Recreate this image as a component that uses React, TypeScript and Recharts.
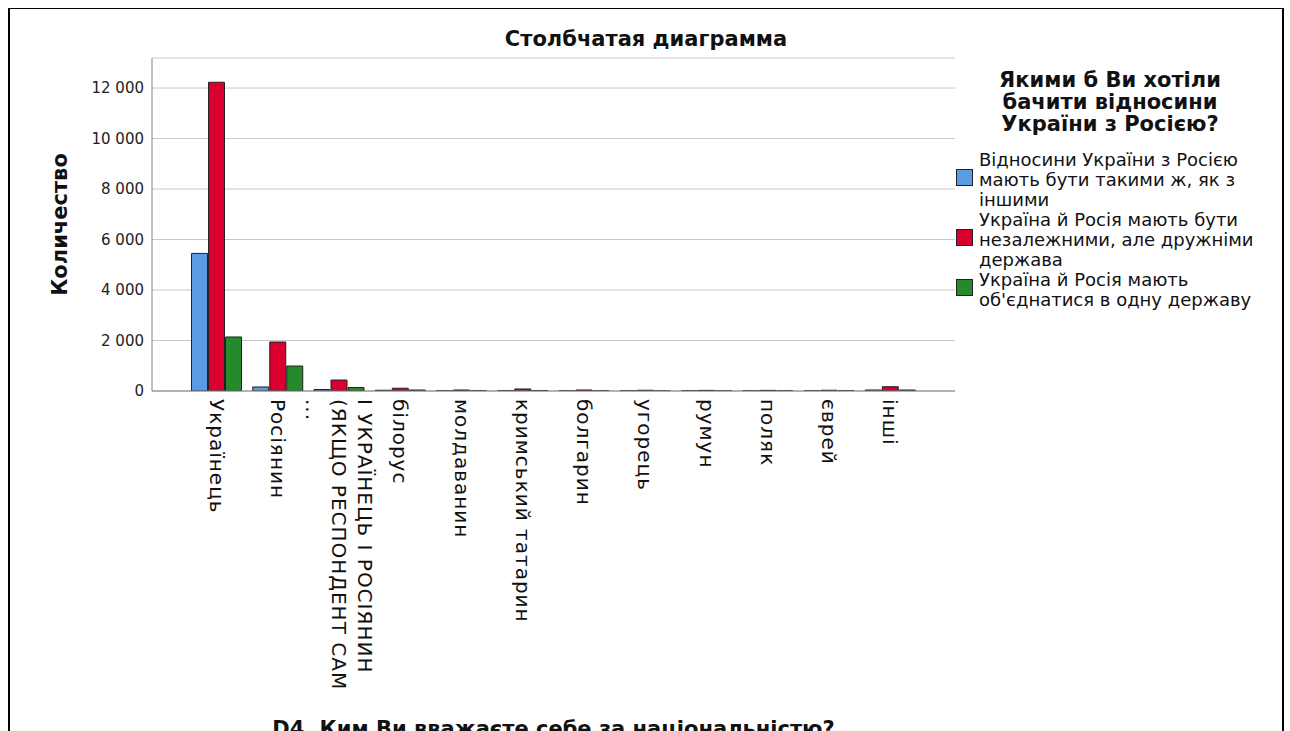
import { BarChart, Bar, XAxis, YAxis, CartesianGrid, Legend, Label } from 'recharts';

const categories = [
  'Українець',
  'Росіянин',
  'І УКРАЇНЕЦЬ І РОСІЯНИН|(ЯКЩО РЕСПОНДЕНТ САМ|...',
  'білорус',
  'молдаванин',
  'кримський татарин',
  'болгарин',
  'угорець',
  'румун',
  'поляк',
  'єврей',
  'інші'
];

const sameAsOthers = [5450, 160, 60, 30, 10, 15, 10, 10, 10, 10, 10, 40];
const friendlyStates = [12230, 1940, 435, 110, 40, 80, 40, 30, 25, 25, 30, 170];
const unite = [2140, 990, 140, 40, 10, 20, 10, 5, 5, 10, 10, 40];

const yTicks = [0, 2000, 4000, 6000, 8000, 10000, 12000];

const seriesNames = [
  'Відносини України з Росією|мають бути такими ж, як з|іншими',
  'Україна й Росія мають бути|незалежними, але дружніми|держава',
  'Україна й Росія мають|об\'єднатися в одну державу'
];
const seriesColors = ['#5a9be6', '#d9002f', '#248a2c'];

const legendTitle = ['Якими б Ви хотіли', 'бачити відносини', 'України з Росією?'];

const data = categories.map((c, i) => ({
  name: c,
  s0: sameAsOthers[i],
  s1: friendlyStates[i],
  s2: unite[i]
}));

const FONT = '"DejaVu Sans", sans-serif';

const fmt = (v: number) => String(v).replace(/\B(?=(\d{3})+(?!\d))/g, ' ');

function XTick({ x, y, payload }: any) {
  const lines = String(payload.value).split('|');
  const lh = 26;
  return (
    <g transform={`translate(${x},${y})`}>
      <text
        transform="rotate(90)"
        fontFamily={FONT}
        fontSize={20}
        letterSpacing={1}
        fill="#111"
        textAnchor="start"
      >
        {lines.map((l, i) => (
          <tspan key={i} x={0} y={(i - (lines.length - 1) / 2) * lh} dominantBaseline="central">
            {l}
          </tspan>
        ))}
      </text>
    </g>
  );
}

function LegendBox() {
  return (
    <div style={{ fontFamily: FONT, color: '#111', width: 330 }}>
      <div style={{ textAlign: 'center', fontWeight: 'bold', fontSize: 21, lineHeight: '22px', paddingRight: 22 }}>
        {legendTitle.map((t) => (
          <div key={t}>{t}</div>
        ))}
      </div>
      <div style={{ marginTop: 15 }}>
        {seriesNames.map((n, i) => (
          <div key={n} style={{ display: 'flex', alignItems: 'center' }}>
            <div
              style={{
                width: 15,
                height: 15,
                background: seriesColors[i],
                border: '1px solid #222',
                marginRight: 6,
                marginTop: -6,
                flexShrink: 0
              }}
            />
            <div style={{ fontSize: 18, lineHeight: '20px', whiteSpace: 'nowrap' }}>
              {n.split('|').map((l) => (
                <div key={l}>{l}</div>
              ))}
            </div>
          </div>
        ))}
      </div>
    </div>
  );
}

export default function App() {
  return (
    <div
      style={{
        position: 'fixed',
        left: 8,
        top: 8,
        width: 1276,
        height: 723,
        boxSizing: 'border-box',
        borderLeft: '2px solid #000',
        borderRight: '2px solid #000',
        borderTop: '1px solid #000',
        overflow: 'hidden',
        background: '#fff'
      }}
    >
      <div
        style={{
          position: 'absolute',
          top: 18,
          left: 0,
          width: 1272,
          textAlign: 'center',
          fontFamily: FONT,
          fontWeight: 'bold',
          fontSize: 21,
          color: '#111',
          zIndex: 2
        }}
      >
        Столбчатая диаграмма
      </div>
      <BarChart
        width={1272}
        height={760}
        data={data}
        margin={{ top: 49, right: 327, left: 0, bottom: 0 }}
        barCategoryGap="9%"
        barGap={1}
      >
        <CartesianGrid vertical={false} stroke="#c8c8c8" />
        <XAxis
          dataKey="name"
          interval={0}
          height={378}
          padding={{ left: 34, right: 34 }}
          tickLine={false}
          axisLine={{ stroke: '#808080' }}
          tick={<XTick />}
        >
          <Label
            value="D4. Ким Ви вважаєте себе за національністю?"
            content={({ viewBox }: any) => (
              <text
                x={viewBox.x + viewBox.width / 2}
                y={727}
                textAnchor="middle"
                fontFamily={FONT}
                fontWeight="bold"
                fontSize={21}
                fill="#111"
              >
                D4. Ким Ви вважаєте себе за національністю?
              </text>
            )}
          />
        </XAxis>
        <YAxis
          width={142}
          domain={[0, 13190]}
          ticks={yTicks}
          allowDataOverflow
          tickLine={false}
          axisLine={{ stroke: '#808080' }}
          tick={{ fontFamily: FONT, fontSize: 15, fill: '#222' }}
          tickFormatter={fmt}
        >
          <Label
            value="Количество"
            content={({ viewBox }: any) => (
              <text
                x={50}
                y={viewBox.y + viewBox.height / 2}
                transform={`rotate(-90, 50, ${viewBox.y + viewBox.height / 2})`}
                textAnchor="middle"
                dominantBaseline="central"
                fontFamily={FONT}
                fontWeight="bold"
                fontSize={21}
                fill="#111"
              >
                Количество
              </text>
            )}
          />
        </YAxis>
        <Legend
          layout="horizontal"
          verticalAlign="middle"
          align="center"
          content={() => <LegendBox />}
          wrapperStyle={{ position: 'absolute', left: 946, top: 60, width: 330, height: 'auto' }}
        />
        {['s0', 's1', 's2'].map((k, i) => (
          <Bar
            key={k}
            dataKey={k}
            name={seriesNames[i]}
            fill={seriesColors[i]}
            stroke="#222"
            strokeWidth={1}
            isAnimationActive={false}
          />
        ))}
      </BarChart>
    </div>
  );
}
